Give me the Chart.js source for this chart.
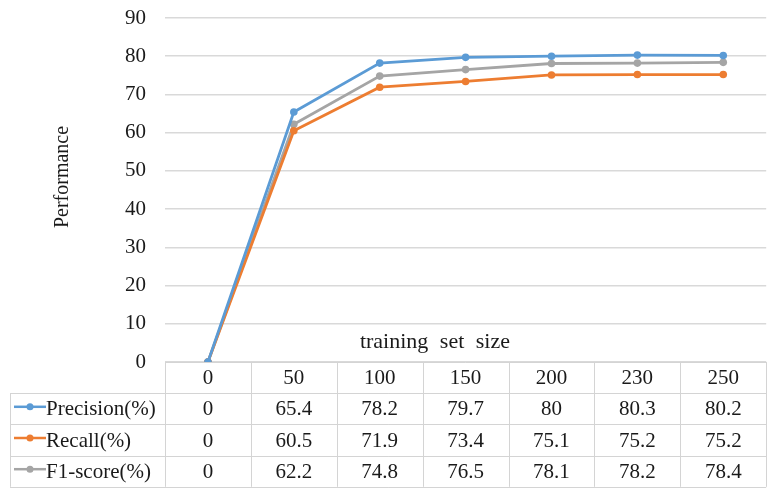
<!DOCTYPE html>
<html>
<head>
<meta charset="utf-8">
<script src="https://cdn.jsdelivr.net/npm/chart.js@4/dist/chart.umd.min.js"></script>
<style>
  html, body { margin: 0; padding: 0; background: #ffffff; }
  #wrap { width: 770px; height: 489px; position: relative; }
</style>
</head>
<body>
<div id="wrap"><canvas id="chart"></canvas></div>
<script>
// Training set sizes and the scores measured at each size
const categories = ['0', '50', '100', '150', '200', '230', '250'];
const precision = [0, 65.4, 78.2, 79.7, 80, 80.3, 80.2];
const recall = [0, 60.5, 71.9, 73.4, 75.1, 75.2, 75.2];
const f1score = [0, 62.2, 74.8, 76.5, 78.1, 78.2, 78.4];
const seriesNames = ['Precision(%)', 'Recall(%)', 'F1-score(%)'];
const seriesColors = ['#5B9BD5', '#ED7D31', '#A5A5A5'];
const yMin = 0, yMax = 90, yStep = 10;
const xTitle = 'training set size';
const yTitle = 'Performance';

const FONT = '"Liberation Serif", "Times New Roman", serif';
const TEXT = '#1a1a1a';
const RULE = '#d4d4d4';

// Data table under the plot, with legend keys in the first column
const dataTablePlugin = {
  id: 'dataTable',
  afterDraw(chart) {
    const ctx = chart.ctx;
    const area = chart.chartArea;
    const x = chart.scales.x;
    const n = categories.length;
    const band = (area.right - area.left) / n;
    const top = area.bottom;
    const rowH = 31.2;
    const rows = chart.data.datasets.length + 1;
    const bottom = top + rowH * rows;
    const keyLeft = 10;

    ctx.save();
    ctx.strokeStyle = RULE;
    ctx.lineWidth = 1;
    ctx.beginPath();
    // header top rule
    ctx.moveTo(area.left, top + 0.5); ctx.lineTo(area.right, top + 0.5);
    for (let r = 1; r <= rows; r++) {
      const yy = Math.round(top + r * rowH) + 0.5;
      ctx.moveTo(keyLeft, yy); ctx.lineTo(area.right, yy);
    }
    for (let c = 0; c <= n; c++) {
      const xx = Math.round(area.left + c * band) + 0.5;
      ctx.moveTo(xx, top); ctx.lineTo(xx, bottom);
    }
    ctx.moveTo(keyLeft + 0.5, top + rowH); ctx.lineTo(keyLeft + 0.5, bottom);
    ctx.stroke();

    ctx.fillStyle = TEXT;
    ctx.font = '21px ' + FONT;
    ctx.textAlign = 'center';
    ctx.textBaseline = 'middle';
    categories.forEach((cat, i) => {
      ctx.fillText(cat, x.getPixelForValue(i), top + rowH / 2 + 1);
    });

    chart.data.datasets.forEach((ds, r) => {
      const cy = top + (r + 1.5) * rowH + 1;
      ctx.textAlign = 'center';
      ctx.fillStyle = TEXT;
      ds.data.forEach((v, i) => {
        ctx.fillText(String(v), x.getPixelForValue(i), cy);
      });
      // legend key: short line with a dot
      ctx.strokeStyle = ds.borderColor;
      ctx.lineWidth = 2.5;
      ctx.beginPath();
      ctx.moveTo(14, cy - 3); ctx.lineTo(46, cy - 3);
      ctx.stroke();
      ctx.fillStyle = ds.borderColor;
      ctx.beginPath();
      ctx.arc(30, cy - 3, 3.5, 0, Math.PI * 2);
      ctx.fill();
      ctx.fillStyle = TEXT;
      ctx.textAlign = 'left';
      ctx.fillText(ds.label, 46, cy);
    });

    // axis titles
    ctx.fillStyle = TEXT;
    ctx.textAlign = 'center';
    ctx.font = '22px ' + FONT;
    ctx.wordSpacing = '6px';
    ctx.fillText(xTitle, area.left + (area.right - area.left) * 0.449, area.bottom - 20);
    ctx.wordSpacing = '0px';
    ctx.translate(63, 177);
    ctx.rotate(-Math.PI / 2);
    ctx.font = '20px ' + FONT;
    ctx.fillText(yTitle, 0, 0);
    ctx.restore();
  }
};

const seriesData = [precision, recall, f1score];
new Chart(document.getElementById('chart'), {
  type: 'line',
  data: {
    labels: categories,
    datasets: seriesData.map((d, i) => ({
      label: seriesNames[i],
      data: d,
      borderColor: seriesColors[i],
      backgroundColor: seriesColors[i],
      borderWidth: 2.8,
      pointRadius: 3.8,
      pointHoverRadius: 3.8,
      pointBorderWidth: 0,
      tension: 0
    }))
  },
  options: {
    responsive: true,
    maintainAspectRatio: false,
    animation: false,
    layout: { padding: { top: 18, right: 3, bottom: 127, left: 0 } },
    plugins: { legend: { display: false }, tooltip: { enabled: false } },
    scales: {
      x: {
        type: 'category',
        offset: true,
        display: false
      },
      y: {
        min: yMin,
        max: yMax,
        ticks: {
          stepSize: yStep,
          color: TEXT,
          padding: 19,
          font: { family: FONT, size: 21 }
        },
        grid: { color: '#d9d9d9', lineWidth: 1.5, drawTicks: false },
        border: { display: false },
        afterFit(scale) {
          scale.width = 165;
          scale.paddingTop = 0;
          scale.paddingBottom = 0;
        }
      }
    }
  },
  plugins: [dataTablePlugin]
});
</script>
</body>
</html>
